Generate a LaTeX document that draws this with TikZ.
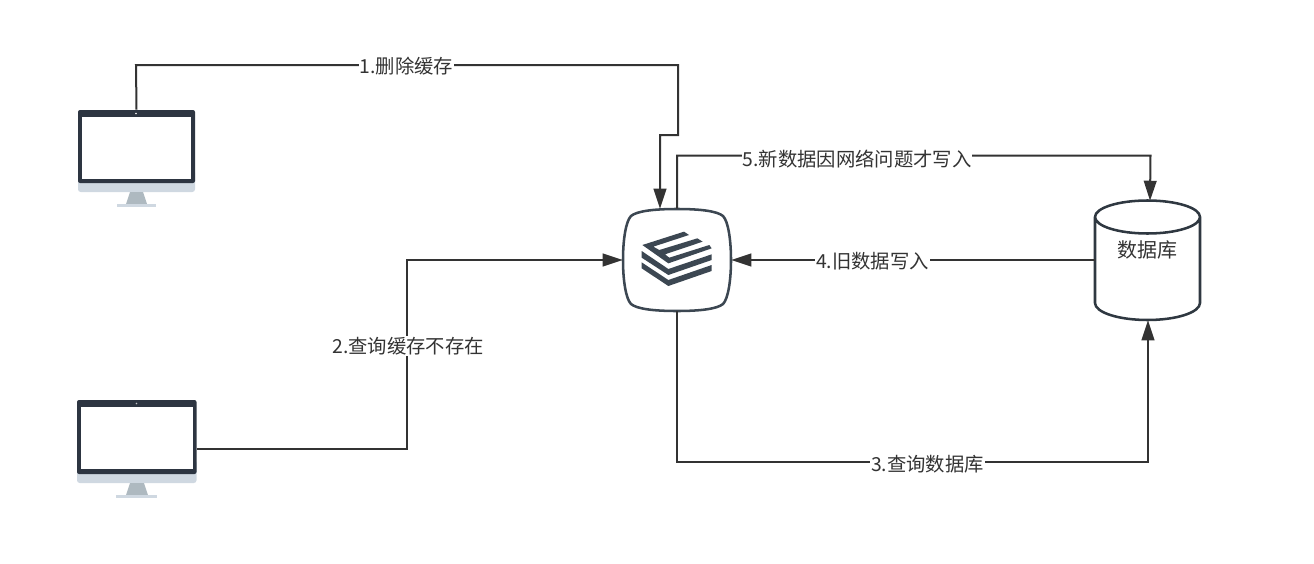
\documentclass[tikz,border=0pt]{standalone}
\usepackage{fontspec}
\setmainfont{Noto Sans CJK SC}
\usetikzlibrary{arrows.meta,calc}
\definecolor{linec}{HTML}{333333}
\definecolor{darkm}{HTML}{2D3541}
\definecolor{lightm}{HTML}{CFD8E1}
\definecolor{standm}{HTML}{AEB9C0}
\definecolor{iconc}{HTML}{3C4752}
\definecolor{cylc}{HTML}{2F3841}
\tikzset{
  conn/.style={draw=linec,line width=1.5pt,line join=miter},
  arrowed/.style={conn,-{Triangle[length=15pt,width=9.5pt]}},
  lab/.style={fill=white,inner sep=0.6pt,text=linec,font=\fontsize{14.5pt}{16pt}\selectfont},
}
\begin{document}
\begin{tikzpicture}[x=0.75pt,y=-0.75pt]
\useasboundingbox (0,0) rectangle (1314,564);
% monitor 1
\fill[lightm,rounded corners=2pt] (78,170) rectangle (195,192);
\fill[darkm,rounded corners=1.5pt] (78,110) -- (195,110) -- (195,183) -- (78,183) -- cycle;
\fill[white] (81.5,116.5) rectangle (191,179);
\fill[white] (136,113.5) circle (0.6pt);
\fill[standm] (130,192) -- (143,192) -- (147,204) -- (126,204) -- cycle;
\fill[lightm] (117,204) rectangle (156,207);
\node[inner sep=0pt,minimum width=87.75pt,minimum height=72.75pt] (m1) at (136.5,158.5) {};
% monitor 2
\fill[lightm,rounded corners=2pt] (77,460) rectangle (196.5,483);
\fill[darkm,rounded corners=1.5pt] (77,400) -- (196.5,400) -- (196.5,474) -- (77,474) -- cycle;
\fill[white] (81,407) rectangle (192.5,469);
\fill[standm] (130,483) -- (144,483) -- (148,495) -- (126,495) -- cycle;
\fill[lightm] (116,495) rectangle (157,498);
\fill[white!70!darkm] (136.5,403.5) circle (0.6pt);
\node[inner sep=0pt,minimum width=89.6pt,minimum height=73.5pt] (m2) at (136.75,449) {};
% cache
\node[inner sep=0pt,minimum width=81pt,minimum height=76.5pt] (cache) at (677,260) {};
\draw[iconc,line width=1.9pt] (677,209) .. controls (700,209) and (717,211) .. (723,216)
  .. controls (728,221) and (731,239) .. (731,260)
  .. controls (731,281) and (728,299) .. (723,304)
  .. controls (717,309) and (700,311) .. (677,311)
  .. controls (654,311) and (637,309) .. (631,304)
  .. controls (626,299) and (623,281) .. (623,260)
  .. controls (623,239) and (626,221) .. (631,216)
  .. controls (637,211) and (654,209) .. (677,209) -- cycle;
\begin{scope}[shift={(610,195)},x=0.25pt,y=-0.25pt]
\fill[iconc] (97,150) -- (222,110) -- (237,120) -- (130,155) -- (148,165) -- (262,130) -- (278,140) -- (165,178) -- (178,188) -- (298,150) -- (305,160) -- (175,205) -- cycle;
\fill[iconc] (95,168) -- (175,222) -- (305,178) -- (305,195) -- (175,240) -- (95,188) -- cycle;
\fill[iconc] (95,202) -- (175,255) -- (305,210) -- (305,228) -- (175,273) -- (95,220) -- cycle;
\end{scope}
% database
\node[inner sep=0pt,minimum width=78.75pt,minimum height=89.25pt] (db) at (1147.5,260.5) {};
\draw[cylc,line width=1.9pt] (1095,217) -- (1095,303) arc[start angle=180,end angle=360,x radius=52.5,y radius=-17]
  -- (1200,217) arc[start angle=0,end angle=180,x radius=52.5,y radius=-16.5]
  arc[start angle=180,end angle=360,x radius=52.5,y radius=-16.5];
\node[text=linec,font=\fontsize{15pt}{16pt}\selectfont,inner sep=0pt] (dblabel) at (1147,250) {数据库};
% named ends
\coordinate (c1) at ($(cache.north)+(-17,0)$);
\coordinate (c5) at (cache.north);
\coordinate (d5) at ($(db.north)+(2.5,0)$);
\coordinate (d3) at ($(db.south)+(0.5,0)$);
% connectors
\draw[arrowed] (m1.north) -- (136,65) -- (678,65) -- (678,135) -- (660,135) -- (c1);
\draw[arrowed] (m2.east) -- (407,449) -- (407,260) -- (cache.west);
\draw[arrowed] (cache.south) -- (677,462) -- (1148,462) -- (d3);
\draw[arrowed] (db.west |- cache.east) -- (cache.east);
\draw[arrowed] (c5) -- (677,155.5) -- (1150.5,155.5) -- (d5);
% labels
\node[lab] (l1) at (406.5,66.5) {1.删除缓存};
\node[lab] (l2) at (408,346) {2.查询缓存不存在};
\node[lab] (l3) at (927.5,464) {3.查询数据库};
\node[lab] (l4) at (872.5,261.5) {4.旧数据写入};
\node[lab] (l5) at (857,159.5) {5.新数据因网络问题才写入};
\end{tikzpicture}
\end{document}
